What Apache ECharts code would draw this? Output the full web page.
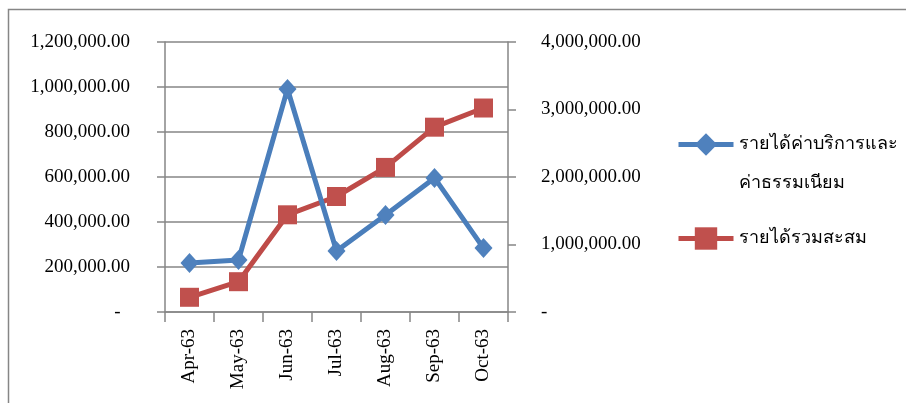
<!DOCTYPE html>
<html>
<head>
<meta charset="utf-8">
<script src="https://cdn.jsdelivr.net/npm/echarts@6/dist/echarts.min.js"></script>
<style>
html,body{margin:0;padding:0;background:#fff;}
#c{width:906px;height:403px;}
</style>
</head>
<body>
<div id="c"></div>
<script>
const categories = ['Apr-63','May-63','Jun-63','Jul-63','Aug-63','Sep-63','Oct-63'];
const serviceFeeIncome = [218000, 231000, 991000, 271000, 431000, 596000, 284000];
const cumulativeIncome = [218000, 449000, 1440000, 1711000, 2142000, 2738000, 3022000];
const seriesNames = ['รายได้ค่าบริการและค่าธรรมเนียม', 'รายได้รวมสะสม'];
const legendLines = ['รายได้ค่าบริการและ', 'ค่าธรรมเนียม'];
const leftTicks = {min: 0, max: 1200000, interval: 200000};
const rightTicks = {min: 0, max: 4000000, interval: 1000000};

const FONT = '"Liberation Serif", "Times New Roman", serif';
const gray = '#868686';
function fmt(v){
  if (v === 0) return '-  ';
  return v.toLocaleString('en-US', {minimumFractionDigits: 2, maximumFractionDigits: 2});
}
const chart = echarts.init(document.getElementById('c'), null, {renderer: 'canvas'});
chart.setOption({
  animation: false,
  backgroundColor: '#fff',
  graphic: [{
    type: 'rect', shape: {x: 8.5, y: 9.5, width: 1200, height: 1200},
    style: {fill: 'none', stroke: gray, lineWidth: 1.5}, silent: true
  }],
  grid: {left: 165, right: 398, top: 42, bottom: 91, containLabel: false},
  legend: [{
    data: [seriesNames[0]],
    orient: 'vertical', left: 671, top: 81,
    itemWidth: 55, itemHeight: 28,
    lineStyle: {width: 5},
    formatter: function(){ return '\n' + legendLines.join('\n'); },
    textStyle: {fontFamily: FONT, fontSize: 18, color: '#000', lineHeight: 39}
  },{
    data: [seriesNames[1]],
    orient: 'vertical', left: 671, top: 214,
    itemWidth: 55, itemHeight: 28,
    lineStyle: {width: 5},
    textStyle: {fontFamily: FONT, fontSize: 18, color: '#000', lineHeight: 39}
  }],
  xAxis: {
    type: 'category', data: categories, boundaryGap: true,
    axisLine: {show: true, lineStyle: {color: gray, width: 1.5}},
    axisTick: {show: true, length: 10, alignWithLabel: false, lineStyle: {color: gray, width: 1.5}},
    axisLabel: {rotate: 90, margin: 17, fontFamily: FONT, fontSize: 19, color: '#000', interval: 0},
    splitLine: {show: false}
  },
  yAxis: [{
    type: 'value', position: 'left',
    min: leftTicks.min, max: leftTicks.max, interval: leftTicks.interval,
    axisLine: {show: true, lineStyle: {color: gray, width: 1.5}},
    axisTick: {show: true, length: 8, lineStyle: {color: gray, width: 1.5}},
    axisLabel: {margin: 35, fontFamily: FONT, fontSize: 19, color: '#000', formatter: fmt},
    splitLine: {show: true, lineStyle: {color: gray, width: 1.5}}
  },{
    type: 'value', position: 'right',
    min: rightTicks.min, max: rightTicks.max, interval: rightTicks.interval,
    axisLine: {show: true, lineStyle: {color: gray, width: 1.5}},
    axisTick: {show: true, length: 8, lineStyle: {color: gray, width: 1.5}},
    axisLabel: {margin: 33, fontFamily: FONT, fontSize: 19, color: '#000',
      formatter: function(v){ return v === 0 ? '-' : fmt(v); }},
    splitLine: {show: false}
  }],
  series: [{
    name: seriesNames[0], type: 'line', yAxisIndex: 0, data: serviceFeeIncome,
    symbol: 'diamond', symbolSize: [18, 20],
    lineStyle: {color: '#4A7EBB', width: 5},
    itemStyle: {color: '#4F81BD', borderColor: '#4A7EBB', borderWidth: 0},
    z: 3
  },{
    name: seriesNames[1], type: 'line', yAxisIndex: 1, data: cumulativeIncome,
    symbol: 'rect', symbolSize: 19,
    lineStyle: {color: '#BE4B48', width: 5},
    itemStyle: {color: '#C0504D', borderWidth: 0},
    z: 2
  }]
});
</script>
</body>
</html>
